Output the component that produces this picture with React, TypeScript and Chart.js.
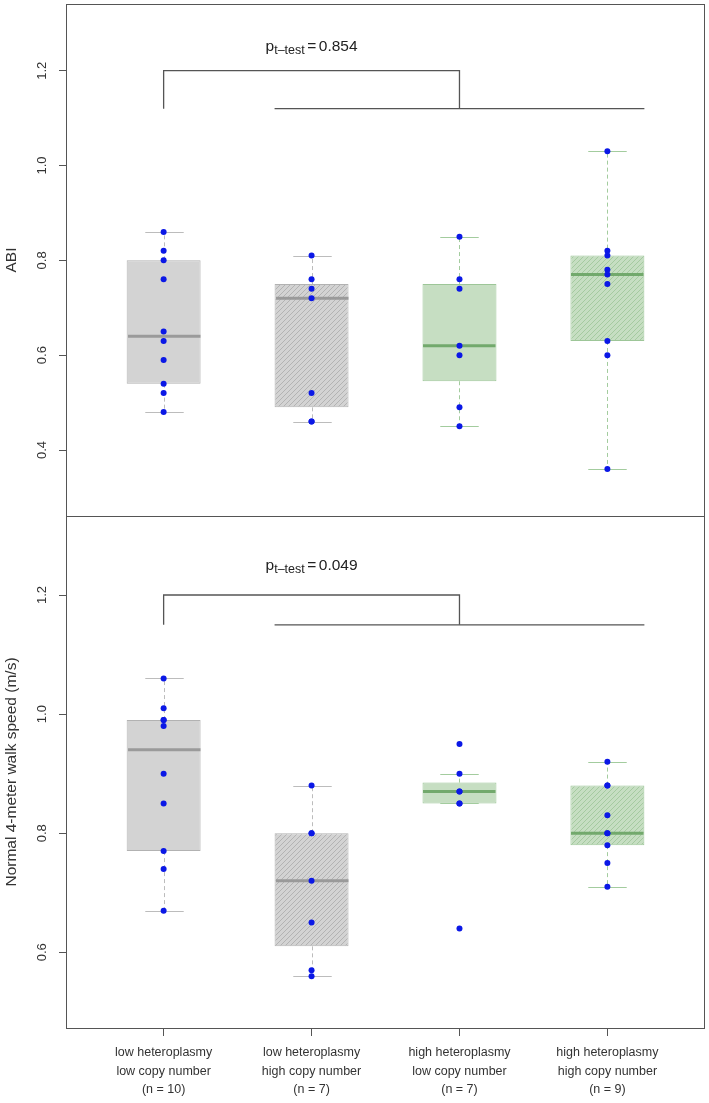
import React, { useEffect, useRef } from "react";
import { Chart, registerables } from "chart.js";

Chart.register(...registerables);

// ---------- data ----------
const groupLabels: string[][] = [
  ["low heteroplasmy", "low copy number", "(n = 10)"],
  ["low heteroplasmy", "high copy number", "(n = 7)"],
  ["high heteroplasmy", "low copy number", "(n = 7)"],
  ["high heteroplasmy", "high copy number", "(n = 9)"],
];
const groupPositions = [1, 2, 3, 4];

const abiLowHetLowCopy = [0.86, 0.82, 0.8, 0.76, 0.65, 0.63, 0.59, 0.54, 0.52, 0.48];
const abiLowHetHighCopy = [0.81, 0.76, 0.74, 0.72, 0.52, 0.46, 0.46];
const abiHighHetLowCopy = [0.85, 0.76, 0.74, 0.62, 0.6, 0.49, 0.45];
const abiHighHetHighCopy = [1.03, 0.82, 0.81, 0.78, 0.77, 0.75, 0.63, 0.6, 0.36];

const walkLowHetLowCopy = [1.06, 1.01, 0.99, 0.99, 0.98, 0.9, 0.85, 0.77, 0.74, 0.67];
const walkLowHetHighCopy = [0.88, 0.8, 0.8, 0.72, 0.65, 0.57, 0.56];
const walkHighHetLowCopy = [0.95, 0.9, 0.87, 0.87, 0.85, 0.85, 0.64];
const walkHighHetHighCopy = [0.92, 0.88, 0.88, 0.83, 0.8, 0.8, 0.78, 0.75, 0.71];

const abiTicks = [0.4, 0.6, 0.8, 1.0, 1.2];
const walkTicks = [0.6, 0.8, 1.0, 1.2];

const abiTitle = "ABI";
const walkTitle = "Normal 4-meter walk speed (m/s)";
const abiPValue = "0.854";
const walkPValue = "0.049";

// bracket: [top of bracket, lower level]
const abiBracket = [1.2, 1.12];
const walkBracket = [1.2, 1.15];
const pTextLevel = 1.242;

// ---------- helpers ----------
const FONT = "'Liberation Sans', Arial, Helvetica, sans-serif";

function fivenum(arr: number[]) {
  const x = [...arr].sort((a, b) => a - b);
  const n = x.length;
  const n4 = Math.floor((n + 3) / 2) / 2;
  const d = [1, n4, (n + 1) / 2, n + 1 - n4, n];
  return d.map((di) => 0.5 * (x[Math.floor(di) - 1] + x[Math.ceil(di) - 1]));
}

function boxStats(arr: number[]) {
  const f = fivenum(arr);
  const q1 = f[1], med = f[2], q3 = f[3];
  const iqr = q3 - q1;
  const lo = Math.min(...arr.filter((v) => v >= q1 - 1.5 * iqr - 1e-9));
  const hi = Math.max(...arr.filter((v) => v <= q3 + 1.5 * iqr + 1e-9));
  return { q1, med, q3, lo, hi };
}

function makeHatch(ctx: CanvasRenderingContext2D, bg: string, line: string) {
  const s = 5;
  const c = document.createElement("canvas");
  c.width = s;
  c.height = s;
  const g = c.getContext("2d")!;
  g.fillStyle = bg;
  g.fillRect(0, 0, s, s);
  g.strokeStyle = line;
  g.lineWidth = 1;
  g.beginPath();
  g.moveTo(0, s);
  g.lineTo(s, 0);
  g.moveTo(-1, 1);
  g.lineTo(1, -1);
  g.moveTo(s - 1, s + 1);
  g.lineTo(s + 1, s - 1);
  g.stroke();
  return ctx.createPattern(c, "repeat")!;
}

const GRAY = { fill: "#d3d3d3", hatch: "#b3b3b3", border: "#b2b2b2", median: "#9a9a9a", whisker: "#bcbcbc" };
const GREEN = { fill: "#c6dec2", hatch: "#a5caa0", border: "#9dc698", median: "#72a96c", whisker: "#a3cc9e" };
const groupTheme = [GRAY, GRAY, GREEN, GREEN];
const groupHatched = [false, true, false, true];

type PanelProps = {
  values: number[][];
  yMin: number;
  yMax: number;
  ticks: number[];
  title: string;
  pValue: string;
  bracket: number[];
  showX: boolean;
  height: number;
  top: number;
  padding: { left: number; top: number; right: number; bottom: number };
};

const WIDTH = 709;
const BOX_INDEX = 3;

function Panel(props: PanelProps) {
  const ref = useRef<HTMLCanvasElement>(null);
  useEffect(() => {
    const canvas = ref.current!;
    const ctx = canvas.getContext("2d")!;
    const { values, yMin, yMax, ticks, title, pValue, bracket, showX, padding } = props;
    const stats = values.map(boxStats);
    const fills = stats.map((_, i) =>
      groupHatched[i] ? makeHatch(ctx, groupTheme[i].fill, groupTheme[i].hatch) : groupTheme[i].fill
    );
    const borders = stats.map((_, i) => groupTheme[i].border);

    const points = values.flatMap((arr, i) => arr.map((v) => ({ x: groupPositions[i], y: v })));

    const decor = {
      id: "panelDecor",
      afterDatasetDraw(chart: any, args: any) {
        if (args.index !== BOX_INDEX) return;
        const c = chart.ctx as CanvasRenderingContext2D;
        const xs = chart.scales.x;
        const ys = chart.scales.y;
        const meta = chart.getDatasetMeta(BOX_INDEX);
        c.save();
        stats.forEach((s, i) => {
          const th = groupTheme[i];
          const xc = Math.round(xs.getPixelForValue(groupPositions[i])) + 0.5;
          const half = meta.data[i].width / 2;
          const capHalf = xs.getPixelForValue(groupPositions[i] + 0.13) - xs.getPixelForValue(groupPositions[i]);
          const yq1 = ys.getPixelForValue(s.q1);
          const yq3 = ys.getPixelForValue(s.q3);
          const ylo = Math.round(ys.getPixelForValue(s.lo)) + 0.5;
          const yhi = Math.round(ys.getPixelForValue(s.hi)) + 0.5;
          // whiskers (dashed)
          c.strokeStyle = th.whisker;
          c.lineWidth = 1;
          c.setLineDash([4, 3]);
          c.beginPath();
          c.moveTo(xc, yq3);
          c.lineTo(xc, yhi);
          c.moveTo(xc, yq1);
          c.lineTo(xc, ylo);
          c.stroke();
          // caps
          c.setLineDash([]);
          c.beginPath();
          c.moveTo(xc - capHalf, yhi);
          c.lineTo(xc + capHalf, yhi);
          c.moveTo(xc - capHalf, ylo);
          c.lineTo(xc + capHalf, ylo);
          c.stroke();
          // median
          const ym = ys.getPixelForValue(s.med);
          c.strokeStyle = th.median;
          c.lineWidth = 3;
          c.beginPath();
          c.moveTo(xc - half + 0.5, ym);
          c.lineTo(xc + half - 1, ym);
          c.stroke();
        });
        c.restore();
      },
      afterDraw(chart: any) {
        const c = chart.ctx as CanvasRenderingContext2D;
        const a = chart.chartArea;
        const xs = chart.scales.x;
        const ys = chart.scales.y;
        c.save();
        // frame
        c.strokeStyle = "#555";
        c.lineWidth = 1;
        c.strokeRect(
          Math.round(a.left) + 0.5,
          Math.round(a.top) + 0.5,
          Math.round(a.right - a.left),
          Math.round(a.bottom - a.top)
        );
        // y tick labels (rotated)
        c.fillStyle = "#333";
        c.font = `13px ${FONT}`;
        c.textAlign = "center";
        c.textBaseline = "middle";
        ticks.forEach((t) => {
          const y = ys.getPixelForValue(t);
          c.save();
          c.translate(42, y);
          c.rotate(-Math.PI / 2);
          c.fillText(t.toFixed(1), 0, 0);
          c.restore();
        });
        // y title
        c.font = `15.5px ${FONT}`;
        c.save();
        c.translate(11.5, (a.top + a.bottom) / 2);
        c.rotate(-Math.PI / 2);
        c.fillText(title, 0, 0);
        c.restore();
        // p-value text
        const base = ys.getPixelForValue(pTextLevel);
        const mainFont = `15.5px ${FONT}`;
        const subFont = `12.5px ${FONT}`;
        c.textAlign = "left";
        c.textBaseline = "alphabetic";
        c.font = mainFont;
        const wp = c.measureText("p").width;
        const weq = c.measureText("=").width;
        const wv = c.measureText(pValue).width;
        c.font = subFont;
        const wsub = c.measureText("t\u2013test").width;
        const gap = 2.5;
        const total = wp + wsub + gap + weq + gap + wv;
        let x = xs.getPixelForValue(2) - total / 2;
        c.fillStyle = "#222";
        c.font = mainFont;
        c.fillText("p", x, base);
        x += wp;
        c.font = subFont;
        c.fillText("t\u2013test", x, base + 3);
        x += wsub + gap;
        c.font = mainFont;
        c.fillText("=", x, base);
        x += weq + gap;
        c.fillText(pValue, x, base);
        c.restore();
      },
    };

    const lineStyle = {
      type: "line" as const,
      borderColor: "#555",
      borderWidth: 1.3,
      pointRadius: 0,
      fill: false,
      tension: 0,
    };

    const chart = new Chart(canvas, {
      type: "bar",
      data: {
        datasets: [
          {
            type: "scatter",
            label: "observations",
            data: points,
            pointRadius: 3,
            pointBackgroundColor: "#0b18e6",
            pointBorderColor: "#0b18e6",
            pointBorderWidth: 0,
            order: 0,
          } as any,
          {
            ...lineStyle,
            label: "bracket-left",
            data: [
              { x: 1, y: bracket[1] },
              { x: 1, y: bracket[0] },
              { x: 3, y: bracket[0] },
              { x: 3, y: bracket[1] },
            ],
            order: 1,
          } as any,
          {
            ...lineStyle,
            label: "bracket-right",
            data: [
              { x: 1.75, y: bracket[1] },
              { x: 4.25, y: bracket[1] },
            ],
            order: 2,
          } as any,
          {
            type: "bar",
            label: "boxes",
            data: stats.map((s, i) => ({ x: groupPositions[i], y: [s.q1, s.q3] })),
            backgroundColor: fills,
            borderColor: borders,
            borderWidth: 1,
            borderSkipped: false,
            barPercentage: 0.5,
            categoryPercentage: 1,
            order: 3,
          } as any,
        ],
      },
      options: {
        responsive: false,
        animation: false,
        devicePixelRatio: 1,
        layout: { padding, autoPadding: false },
        plugins: { legend: { display: false }, tooltip: { enabled: false } },
        scales: {
          x: {
            type: "linear",
            display: showX,
            min: 0.34,
            max: 4.653,
            offset: false,
            afterBuildTicks: (s: any) => {
              s.ticks = groupPositions.map((v) => ({ value: v }));
            },
            afterFit: (s: any) => {
              s.height = showX ? 75 : 0;
            },
            grid: { drawOnChartArea: false, drawTicks: true, tickLength: 8, color: "#555", offset: false },
            border: { display: false },
            ticks: {
              callback: (v: any) => {
                const i = groupPositions.indexOf(Number(v));
                return i >= 0 ? groupLabels[i] : "";
              },
              color: "#333",
              font: { family: FONT, size: 12.5, lineHeight: 1.5 },
              padding: 7,
              maxRotation: 0,
              minRotation: 0,
              autoSkip: false,
            },
          },
          y: {
            type: "linear",
            min: yMin,
            max: yMax,
            beginAtZero: false,
            afterBuildTicks: (s: any) => {
              s.ticks = ticks.map((v) => ({ value: v }));
            },
            afterFit: (s: any) => {
              s.width = 66;
            },
            grid: { drawOnChartArea: false, drawTicks: true, tickLength: 7, color: "#555" },
            border: { display: false },
            ticks: { display: false },
          },
        },
      } as any,
      plugins: [decor],
    });
    return () => chart.destroy();
  }, []);
  return (
    <canvas
      ref={ref}
      width={WIDTH}
      height={props.height}
      style={{ position: "absolute", left: 0, top: props.top, width: WIDTH, height: props.height, display: "block" }}
    />
  );
}

export default function App() {
  return (
    <div style={{ position: "absolute", left: 0, top: 0, width: WIDTH, height: 1103, background: "#fff", overflow: "hidden" }}>
      <Panel
        values={[abiLowHetLowCopy, abiLowHetHighCopy, abiHighHetLowCopy, abiHighHetHighCopy]}
        yMin={0.2608}
        yMax={1.3407}
        ticks={abiTicks}
        title={abiTitle}
        pValue={abiPValue}
        bracket={abiBracket}
        showX={false}
        height={517}
        top={0}
        padding={{ left: 0, top: 4, right: 5, bottom: 1 }}
      />
      <Panel
        values={[walkLowHetLowCopy, walkLowHetHighCopy, walkHighHetLowCopy, walkHighHetHighCopy]}
        yMin={0.4729}
        yMax={1.3327}
        ticks={walkTicks}
        title={walkTitle}
        pValue={walkPValue}
        bracket={walkBracket}
        showX={true}
        height={587}
        top={516}
        padding={{ left: 0, top: 0, right: 5, bottom: 0 }}
      />
    </div>
  );
}
